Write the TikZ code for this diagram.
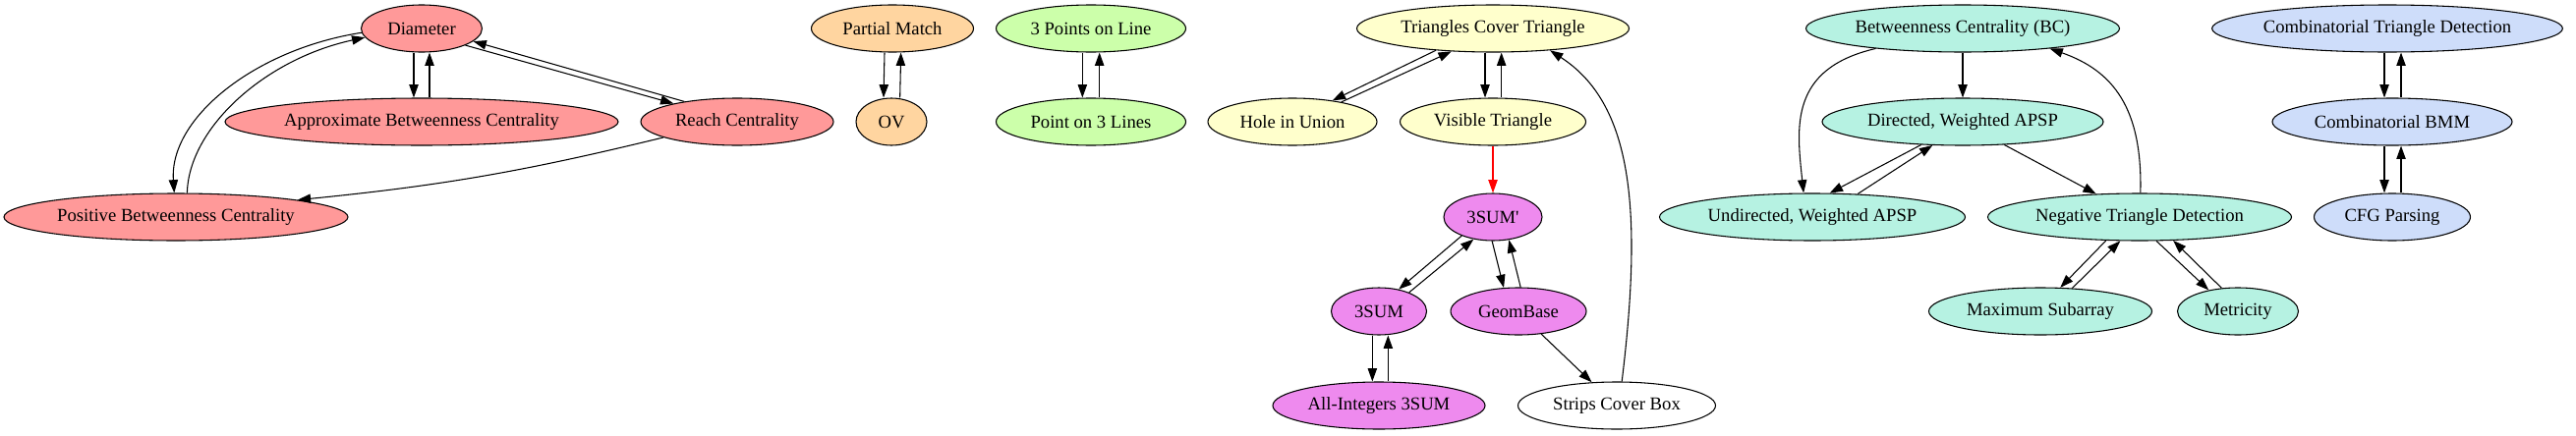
\documentclass[tikz,border=0pt]{standalone}
\usepackage{fontspec}
\setmainfont{Liberation Serif}
\usetikzlibrary{shapes.geometric,arrows.meta}
\definecolor{cred}{RGB}{255,153,153}
\definecolor{corange}{RGB}{255,213,160}
\definecolor{cgreen}{RGB}{204,255,170}
\definecolor{cyellow}{RGB}{255,255,204}
\definecolor{cviolet}{RGB}{238,138,238}
\definecolor{cteal}{RGB}{182,242,226}
\definecolor{cblue}{RGB}{206,221,250}
\begin{document}
\begin{tikzpicture}[x=0.75pt,y=-0.75pt,
  nd/.style={ellipse,draw=black,line width=0.8pt,minimum height=36pt,inner sep=0pt,
    font=\fontsize{14pt}{16pt}\selectfont},
  wd/.style={minimum width=#1*0.75pt},
  ed/.style={line width=0.8pt,-{Triangle[length=10pt,width=7pt]}},
]
\useasboundingbox (0,0) rectangle (2621,443);
% red group
\node[nd,fill=cred,wd=123] (D) at (429,29) {Diameter};
\node[nd,fill=cred,wd=400] (A) at (429,124) {Approximate Betweenness Centrality};
\node[nd,fill=cred,wd=196] (R) at (750,124) {Reach Centrality};
\node[nd,fill=cred,wd=350] (P) at (179,221) {Positive Betweenness Centrality};
% orange
\node[nd,fill=corange,wd=165] (PM) at (908,29) {Partial Match};
\node[nd,fill=corange,wd=72] (OV) at (907,124) {OV};
% green
\node[nd,fill=cgreen,wd=193] (PL) at (1110,29) {3 Points on Line};
\node[nd,fill=cgreen,wd=193] (PT) at (1110,124) {Point on 3 Lines};
% yellow
\node[nd,fill=cyellow,wd=277] (TCT) at (1519,29) {Triangles Cover Triangle};
\node[nd,fill=cyellow,wd=172] (HiU) at (1315,124) {Hole in Union};
\node[nd,fill=cyellow,wd=189] (VT) at (1519,124) {Visible Triangle};
% violet
\node[nd,fill=cviolet,wd=100] (S3p) at (1519,221) {3SUM\textquotesingle};
\node[nd,fill=cviolet,wd=97] (S3) at (1403,317) {3SUM};
\node[nd,fill=cviolet,wd=138] (GB) at (1545,317) {GeomBase};
\node[nd,fill=cviolet,wd=216] (AI) at (1403,413) {All-Integers 3SUM};
\node[nd,fill=white,wd=201] (SCB) at (1645,413) {Strips Cover Box};
% teal
\node[nd,fill=cteal,wd=319] (BC) at (1997,29) {Betweenness Centrality (BC)};
\node[nd,fill=cteal,wd=286] (DW) at (1997,124) {Directed, Weighted APSP};
\node[nd,fill=cteal,wd=311] (UW) at (1844,221) {Undirected, Weighted APSP};
\node[nd,fill=cteal,wd=309] (NTD) at (2177,221) {Negative Triangle Detection};
\node[nd,fill=cteal,wd=227] (MS) at (2076,317) {Maximum Subarray};
\node[nd,fill=cteal,wd=123] (MT) at (2277,317) {Metricity};
% blue
\node[nd,fill=cblue,wd=355] (CTD) at (2429,29) {Combinatorial Triangle Detection};
\node[nd,fill=cblue,wd=244] (BMM) at (2434,124) {Combinatorial BMM};
\node[nd,fill=cblue,wd=159] (CFG) at (2434,221) {CFG Parsing};

% red edges
\draw[ed] ([xshift=-6pt]D.south) -- ([xshift=-6pt]A.north);
\draw[ed] ([xshift=6pt]A.north) -- ([xshift=6pt]D.south);
\draw[ed] (D.339) -- (R.164);
\draw[ed] (R.159) -- (D.346);
\draw[ed] (D.184) .. controls (260,50) and (172,120) .. (P.94);
\draw[ed] (P.65) .. controls (192,130) and (270,60) .. (D.189);
\draw[ed] (R.192) to[bend left=4] (P.8);
% orange
\draw[ed] ([xshift=-6pt]PM.south) -- ([xshift=-6pt]OV.north);
\draw[ed] ([xshift=6.5pt]OV.north) -- ([xshift=6.5pt]PM.south);
% green
\draw[ed] ([xshift=-6.5pt]PL.south) -- ([xshift=-6.5pt]PT.north);
\draw[ed] ([xshift=6.5pt]PT.north) -- ([xshift=6.5pt]PL.south);
% yellow
\draw[ed] (TCT.201) -- (HiU.28);
\draw[ed] (HiU.22) -- (TCT.209);
\draw[ed] ([xshift=-6pt]TCT.south) -- ([xshift=-6pt]VT.north);
\draw[ed] ([xshift=6.5pt]VT.north) -- ([xshift=6.5pt]TCT.south);
\draw[ed,red] (VT.south) -- (S3p.north);
\draw[ed] (SCB.78) .. controls (1672,210) and (1660,105) .. (TCT.339);
% violet
\draw[ed] (S3p.211) -- (S3.48);
\draw[ed] (S3.32) -- (S3p.229);
\draw[ed] (S3p.268) -- (GB.122);
\draw[ed] (GB.85) -- (S3p.305);
\draw[ed] ([xshift=-5pt]S3.south) -- ([xshift=-5pt]AI.north);
\draw[ed] ([xshift=7pt]AI.north) -- ([xshift=7pt]S3.south);
\draw[ed] (GB.315) -- (SCB.137);
% teal
\draw[ed] (BC.south) -- (DW.north);
\draw[ed] (BC.193) .. controls (1820,70) and (1828,130) .. (UW.110);
\draw[ed] (DW.209) -- (UW.54);
\draw[ed] (UW.27) -- (DW.218);
\draw[ed] (DW.331) -- (NTD.152);
\draw[ed] (NTD.88) .. controls (2180,110) and (2150,72) .. (BC.347);
\draw[ed] (NTD.215) -- (MS.50);
\draw[ed] (MS.36) -- (NTD.231);
\draw[ed] (NTD.305) -- (MT.144);
\draw[ed] (MT.125) -- (NTD.325);
% blue
\draw[ed] ([xshift=-2.25pt]CTD.south) -- ([xshift=-6pt]BMM.north);
\draw[ed] ([xshift=6.75pt]BMM.north) -- ([xshift=10.5pt]CTD.south);
\draw[ed] ([xshift=-6pt]BMM.south) -- ([xshift=-6pt]CFG.north);
\draw[ed] ([xshift=6.75pt]CFG.north) -- ([xshift=6.75pt]BMM.south);
\end{tikzpicture}
\end{document}
